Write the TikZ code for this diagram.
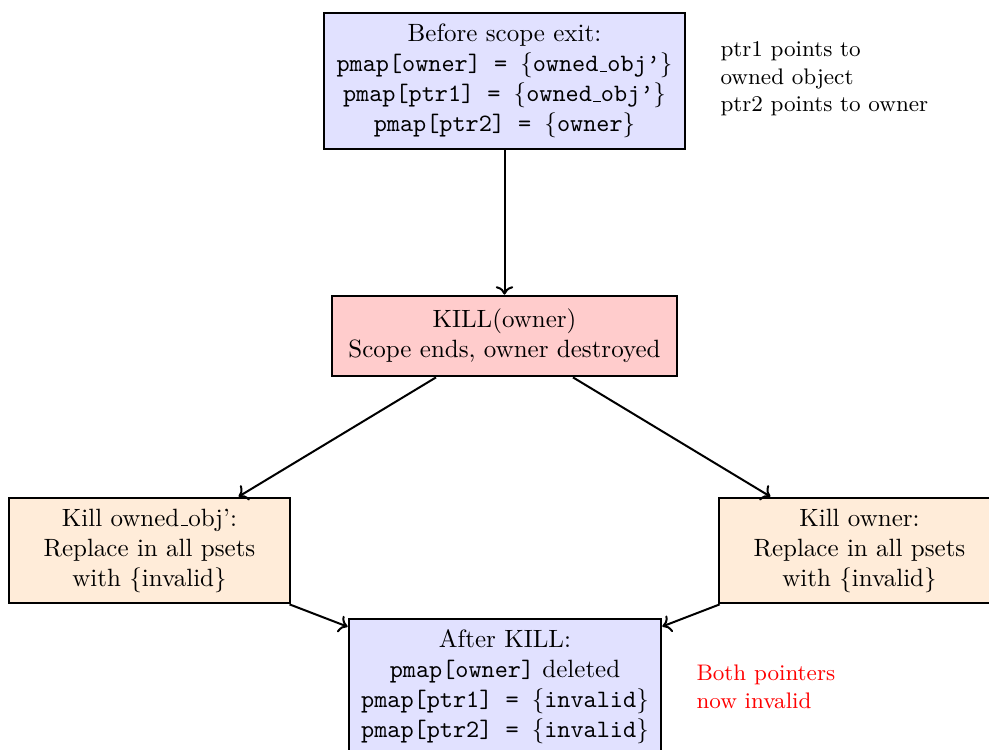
\documentclass[tikz,border=0pt]{standalone}
\usetikzlibrary{arrows.meta}
\definecolor{stateblue}{RGB}{225,225,255}
\definecolor{killred}{RGB}{255,204,204}
\definecolor{steppeach}{RGB}{255,236,217}
\newcommand{\lb}{$\{$}
\newcommand{\rb}{$\}$}
% short low rule used as the underscore in identifiers
\newcommand{\usc}{\leavevmode\kern.06em\vbox{\hrule width.3em}}
\begin{document}
\begin{tikzpicture}[x=0.4pt,y=-0.4pt,
  box/.style={draw=black,line width=1.1pt,align=center,inner sep=3.33pt},
  state/.style={box,fill=stateblue},
  killbox/.style={box,fill=killred,minimum width=138pt,minimum height=32pt},
  stepbox/.style={box,fill=steppeach,minimum width=112.4pt,minimum height=42pt},
  link/.style={thick,->},
  note/.style={align=left,font=\small,anchor=west,inner sep=0pt}]
\useasboundingbox (0,0) rectangle (989,749);
\clip (0,0) rectangle (989,749);

% program states and the kill step
\node[state,minimum width=144.4pt,minimum height=54.4pt] (before) at (504.5,81)
  {Before scope exit:\\
   \texttt{pmap[owner] = }\lb\texttt{owned\usc obj’}\rb\\
   \texttt{pmap[ptr1] = }\lb\texttt{owned\usc obj’}\rb\\
   \texttt{pmap[ptr2] = }\lb\texttt{owner}\rb};
\node[killbox] (kill) at (504.5,336)
  {KILL(owner)\\Scope ends, owner destroyed};
\node[stepbox] (killobj) at (149.5,550.5)
  {Kill owned\usc obj’:\\Replace in all psets\\with \{invalid\}};
\node[stepbox] (killowner) at (859.5,550.5)
  {Kill owner:\\Replace in all psets\\with \{invalid\}};
\node[state,minimum width=124.8pt,minimum height=54.4pt] (after) at (505,687)
  {After KILL:\\
   \texttt{pmap[owner]} deleted\\
   \texttt{pmap[ptr1] = }\lb\texttt{invalid}\rb\\
   \texttt{pmap[ptr2] = }\lb\texttt{invalid}\rb};

% side notes
\node[note] (notebefore) at (720,79)
  {ptr1 points to\\owned object\\ptr2 points to owner};
\node[note,text=red] (noteafter) at (696,687)
  {Both pointers\\now invalid};

% flow
\draw[link] (before) -- (kill);
\draw[link] (kill) -- (killobj);
\draw[link] (kill) -- (killowner);
\draw[link] (killobj) -- (after);
\draw[link] (killowner) -- (after);
\end{tikzpicture}
\end{document}
